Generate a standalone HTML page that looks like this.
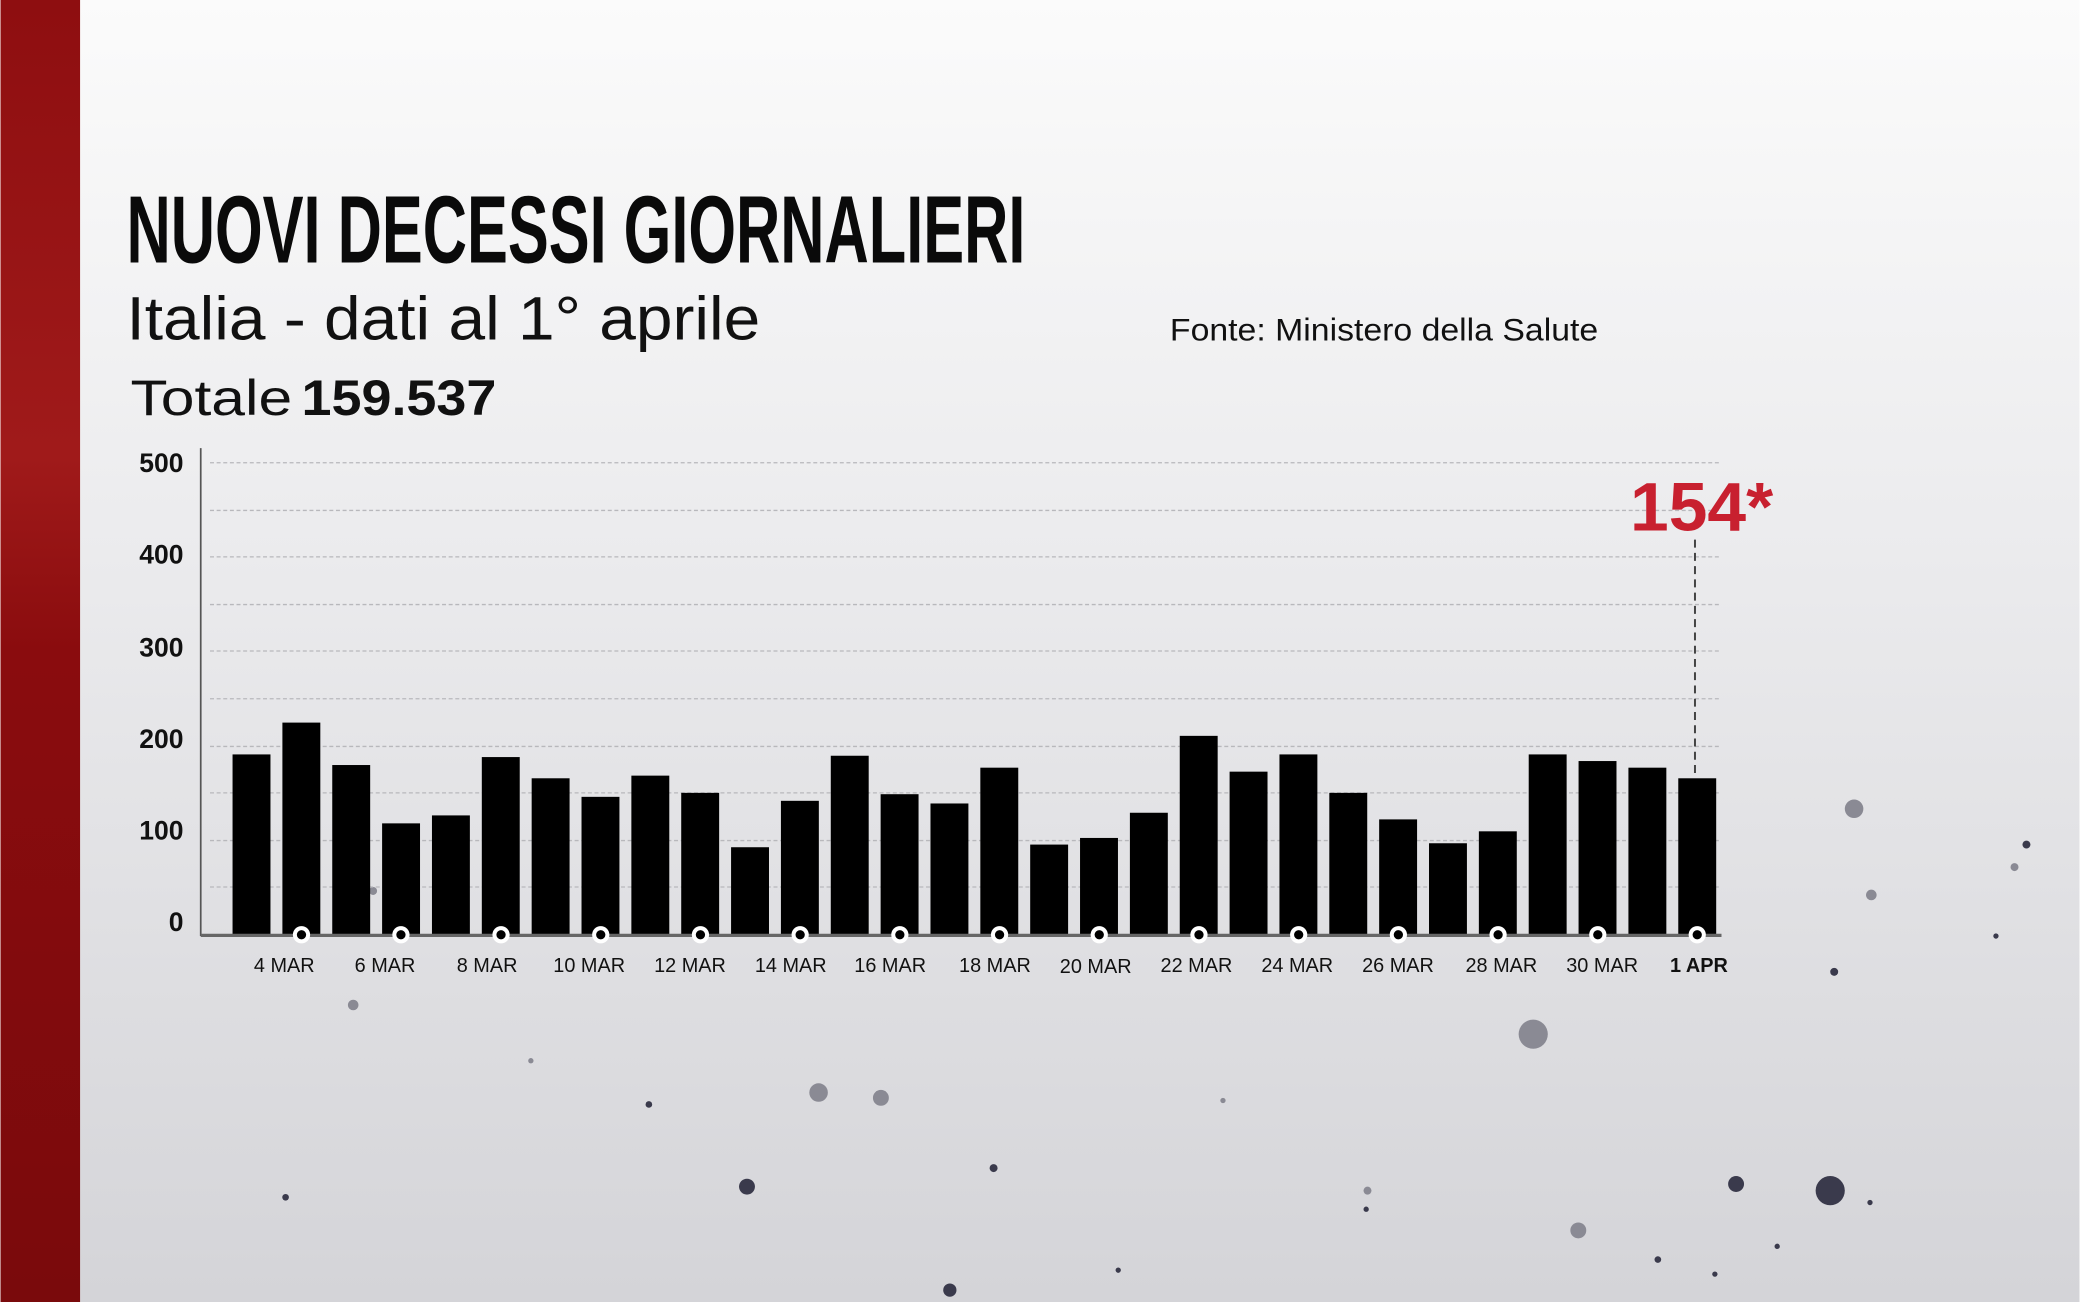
<!DOCTYPE html>
<html><head><meta charset="utf-8"><style>
html,body{margin:0;padding:0;width:2080px;height:1302px;overflow:hidden}
svg{display:block}
</style></head><body>
<svg width="2080" height="1302" viewBox="0 0 1568 982" xmlns="http://www.w3.org/2000/svg" font-family="'Liberation Sans', sans-serif">
<defs>
<linearGradient id="bg" x1="0" y1="0" x2="0" y2="1">
<stop offset="0" stop-color="#fbfbfb"/><stop offset="0.4" stop-color="#ececee"/><stop offset="1" stop-color="#d4d4d8"/>
</linearGradient>
<linearGradient id="red" x1="0" y1="0" x2="0" y2="1">
<stop offset="0" stop-color="#8e0e10"/><stop offset="0.35" stop-color="#a01a1a"/><stop offset="0.5" stop-color="#8a0c0e"/><stop offset="1" stop-color="#7a0a0c"/>
</linearGradient>
</defs>
<rect width="1568" height="982" fill="url(#bg)"/>
<rect width="60" height="982" fill="url(#red)"/>
<g fill="#3a3a4c">
<circle cx="1380" cy="898" r="11"/><circle cx="1309" cy="893" r="6"/><circle cx="563" cy="895" r="6"/><circle cx="716" cy="973" r="5"/>
<circle cx="1383" cy="733" r="3"/><circle cx="1528" cy="637" r="3"/><circle cx="749" cy="881" r="3"/><circle cx="489" cy="833" r="2.5"/>
<circle cx="1250" cy="950" r="2.5"/><circle cx="1340" cy="940" r="2"/><circle cx="1410" cy="907" r="2"/><circle cx="215" cy="903" r="2.5"/>
<circle cx="1030" cy="912" r="2"/><circle cx="843" cy="958" r="2"/><circle cx="1505" cy="706" r="2"/><circle cx="1293" cy="961" r="2"/>
</g>
<g fill="#8a8a94">
<circle cx="1398" cy="610" r="7"/><circle cx="1156" cy="780" r="11"/><circle cx="617" cy="824" r="7"/><circle cx="664" cy="828" r="6"/>
<circle cx="1190" cy="928" r="6"/><circle cx="1411" cy="675" r="4"/><circle cx="1519" cy="654" r="3"/><circle cx="281" cy="672" r="3"/>
<circle cx="266" cy="758" r="4"/><circle cx="1031" cy="898" r="3"/><circle cx="922" cy="830" r="2"/><circle cx="400" cy="800" r="2"/>
</g>
<!-- gridlines -->
<g stroke="#b8b8bc" stroke-width="1" stroke-dasharray="3,2">
<line x1="158" y1="349" x2="1296" y2="349"/><line x1="158" y1="385" x2="1296" y2="385"/>
<line x1="158" y1="420" x2="1296" y2="420"/><line x1="158" y1="456" x2="1296" y2="456"/>
<line x1="158" y1="491" x2="1296" y2="491"/><line x1="158" y1="527" x2="1296" y2="527"/>
<line x1="158" y1="563" x2="1296" y2="563"/><line x1="158" y1="598" x2="1296" y2="598"/>
<line x1="158" y1="634" x2="1296" y2="634"/><line x1="158" y1="669" x2="1296" y2="669"/>
</g>
<line x1="151" y1="338" x2="151" y2="706" stroke="#555" stroke-width="1.3"/>
<!-- bars -->
<g fill="#000">
<rect x="175" y="569" width="28.6" height="136"/><rect x="212.6" y="545" width="28.6" height="160"/>
<rect x="250.2" y="577" width="28.6" height="128"/><rect x="287.8" y="621" width="28.6" height="84"/>
<rect x="325.4" y="615" width="28.6" height="90"/><rect x="363" y="571" width="28.6" height="134"/>
<rect x="400.6" y="587" width="28.6" height="118"/><rect x="438.2" y="601" width="28.6" height="104"/>
<rect x="475.8" y="585" width="28.6" height="120"/><rect x="513.4" y="598" width="28.6" height="107"/>
<rect x="551" y="639" width="28.6" height="66"/><rect x="588.6" y="604" width="28.6" height="101"/>
<rect x="626.2" y="570" width="28.6" height="135"/><rect x="663.8" y="599" width="28.6" height="106"/>
<rect x="701.4" y="606" width="28.6" height="99"/><rect x="739" y="579" width="28.6" height="126"/>
<rect x="776.6" y="637" width="28.6" height="68"/><rect x="814.2" y="632" width="28.6" height="73"/>
<rect x="851.8" y="613" width="28.6" height="92"/><rect x="889.4" y="555" width="28.6" height="150"/>
<rect x="927" y="582" width="28.6" height="123"/><rect x="964.6" y="569" width="28.6" height="136"/>
<rect x="1002.2" y="598" width="28.6" height="107"/><rect x="1039.8" y="618" width="28.6" height="87"/>
<rect x="1077.4" y="636" width="28.6" height="69"/><rect x="1115" y="627" width="28.6" height="78"/>
<rect x="1152.6" y="569" width="28.6" height="136"/><rect x="1190.2" y="574" width="28.6" height="131"/>
<rect x="1227.8" y="579" width="28.6" height="126"/><rect x="1265.4" y="587" width="28.6" height="118"/>
</g>
<line x1="151" y1="705.5" x2="1298" y2="705.5" stroke="#666" stroke-width="2.5"/>
<g fill="#fff">
<circle cx="227" cy="705" r="6.5"/><circle cx="302" cy="705" r="6.5"/><circle cx="377.5" cy="705" r="6.5"/><circle cx="452.7" cy="705" r="6.5"/><circle cx="527.9" cy="705" r="6.5"/><circle cx="603.1" cy="705" r="6.5"/><circle cx="678.3" cy="705" r="6.5"/><circle cx="753.5" cy="705" r="6.5"/><circle cx="828.7" cy="705" r="6.5"/><circle cx="903.9" cy="705" r="6.5"/><circle cx="979.1" cy="705" r="6.5"/><circle cx="1054.3" cy="705" r="6.5"/><circle cx="1129.5" cy="705" r="6.5"/><circle cx="1204.7" cy="705" r="6.5"/><circle cx="1279.7" cy="705" r="6.5"/>
</g>
<g fill="#000">
<circle cx="227" cy="705" r="3.5"/><circle cx="302" cy="705" r="3.5"/><circle cx="377.5" cy="705" r="3.5"/><circle cx="452.7" cy="705" r="3.5"/><circle cx="527.9" cy="705" r="3.5"/><circle cx="603.1" cy="705" r="3.5"/><circle cx="678.3" cy="705" r="3.5"/><circle cx="753.5" cy="705" r="3.5"/><circle cx="828.7" cy="705" r="3.5"/><circle cx="903.9" cy="705" r="3.5"/><circle cx="979.1" cy="705" r="3.5"/><circle cx="1054.3" cy="705" r="3.5"/><circle cx="1129.5" cy="705" r="3.5"/><circle cx="1204.7" cy="705" r="3.5"/><circle cx="1279.7" cy="705" r="3.5"/>
</g>
<line x1="1278" y1="407" x2="1278" y2="587" stroke="#444" stroke-width="1.5" stroke-dasharray="6,4"/>
<!-- y labels -->
<g font-size="20" fill="#111" text-anchor="end" font-weight="bold">
<text x="138" y="356">500</text><text x="138" y="425">400</text><text x="138" y="495">300</text>
<text x="138" y="564">200</text><text x="138" y="633">100</text><text x="138" y="702">0</text>
</g>
<!-- x labels -->
<g font-size="15" fill="#111" text-anchor="middle" font-family="'Liberation Sans Narrow','Liberation Sans',sans-serif">
<text x="214" y="733">4 MAR</text><text x="290" y="733">6 MAR</text><text x="367" y="733">8 MAR</text>
<text x="444" y="733">10 MAR</text><text x="520" y="733">12 MAR</text><text x="596" y="733">14 MAR</text>
<text x="671" y="733">16 MAR</text><text x="750" y="733">18 MAR</text><text x="826" y="734">20 MAR</text>
<text x="902" y="733">22 MAR</text><text x="978" y="733">24 MAR</text><text x="1054" y="733">26 MAR</text>
<text x="1132" y="733">28 MAR</text><text x="1208" y="733">30 MAR</text>
<text x="1281" y="733" font-weight="bold">1 APR</text>
</g>
<text x="1229" y="400" font-size="52" font-weight="bold" fill="#c8202f" textLength="108" lengthAdjust="spacingAndGlyphs">154*</text>
<!-- titles -->
<text x="95" y="198" font-size="72" font-weight="bold" fill="#0a0a0a" textLength="678" lengthAdjust="spacingAndGlyphs" font-family="'Liberation Sans Narrow','Liberation Sans',sans-serif">NUOVI DECESSI GIORNALIERI</text>
<text x="95" y="256" font-size="46" fill="#111" textLength="478" lengthAdjust="spacingAndGlyphs">Italia - dati al 1° aprile</text>
<text x="98" y="313" font-size="38" fill="#111" textLength="122" lengthAdjust="spacingAndGlyphs">Totale</text>
<text x="227" y="313" font-size="38" font-weight="bold" fill="#111" textLength="147" lengthAdjust="spacingAndGlyphs">159.537</text>
<text x="882" y="257" font-size="24" fill="#111" textLength="323" lengthAdjust="spacingAndGlyphs">Fonte: Ministero della Salute</text>
</svg>
</body></html>
